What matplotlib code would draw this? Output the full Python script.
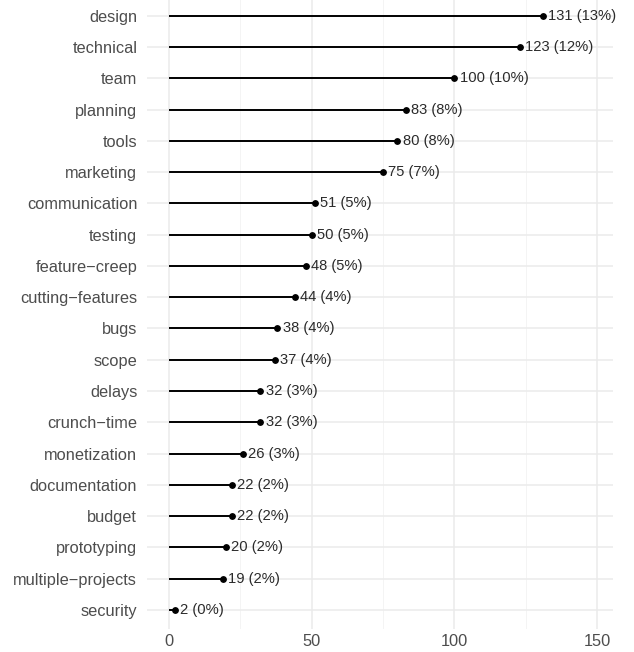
import numpy as np
import matplotlib.pyplot as plt
from matplotlib.ticker import MultipleLocator

plt.rcParams['font.family'] = ['Liberation Sans', 'DejaVu Sans']

# topics, top to bottom as drawn
topics = ["design", "technical", "team", "planning", "tools", "marketing",
          "communication", "testing", "feature\u2212creep", "cutting\u2212features",
          "bugs", "scope", "delays", "crunch\u2212time", "monetization",
          "documentation", "budget", "prototyping", "multiple\u2212projects", "security"]
counts = [131, 123, 100, 83, 80, 75, 51, 50, 48, 44, 38, 37, 32, 32, 26, 22, 22, 20, 19, 2]

total = sum(counts)
labels = ["{} ({}%)".format(c, int(np.floor(100 * c / total + 0.5))) for c in counts]

# reverse so first topic ends on top
topics_r = topics[::-1]
counts_r = counts[::-1]
labels_r = labels[::-1]
y = np.arange(len(topics_r))

W, H = 634, 652
step = (610 - 15.7) / 19
bottom_px = 610 + 0.6 * step
fig = plt.figure(figsize=(W / 100, H / 100), dpi=100)
ax = fig.add_axes([147 / W, 1 - bottom_px / H, (613 - 147) / W, bottom_px / H])

ax.hlines(y, 0, counts_r, color="black", lw=1.4, zorder=3)
ax.plot(counts_r, y, "o", color="black", ms=3.9, zorder=4)
for yi, c, lab in zip(y, counts_r, labels_r):
    ax.annotate(lab, (c, yi), xytext=(3.8, 0), textcoords="offset points",
                ha="left", va="center", fontsize=10.6, color="#2B2B2B", zorder=5)

ax.set_xlim(-7.7, 155.6)
ax.set_ylim(-0.6, len(y) - 1 + 15.7 / step)
ax.set_yticks(y)
ax.set_yticklabels(topics_r)
ax.xaxis.set_major_locator(MultipleLocator(50))
ax.xaxis.set_minor_locator(MultipleLocator(25))

ax.grid(which="major", color="#EBEBEB", lw=1.1, zorder=0)
ax.grid(which="minor", axis="x", color="#F2F2F2", lw=0.6, zorder=0)
ax.set_axisbelow(True)
for s in ax.spines.values():
    s.set_visible(False)
ax.tick_params(which="both", length=0)
ax.tick_params(axis="y", labelsize=11.8, labelcolor="#4D4D4D", pad=7)
ax.tick_params(axis="x", labelsize=11.8, labelcolor="#4D4D4D", pad=4)

fig.savefig("out.png", dpi=100)
